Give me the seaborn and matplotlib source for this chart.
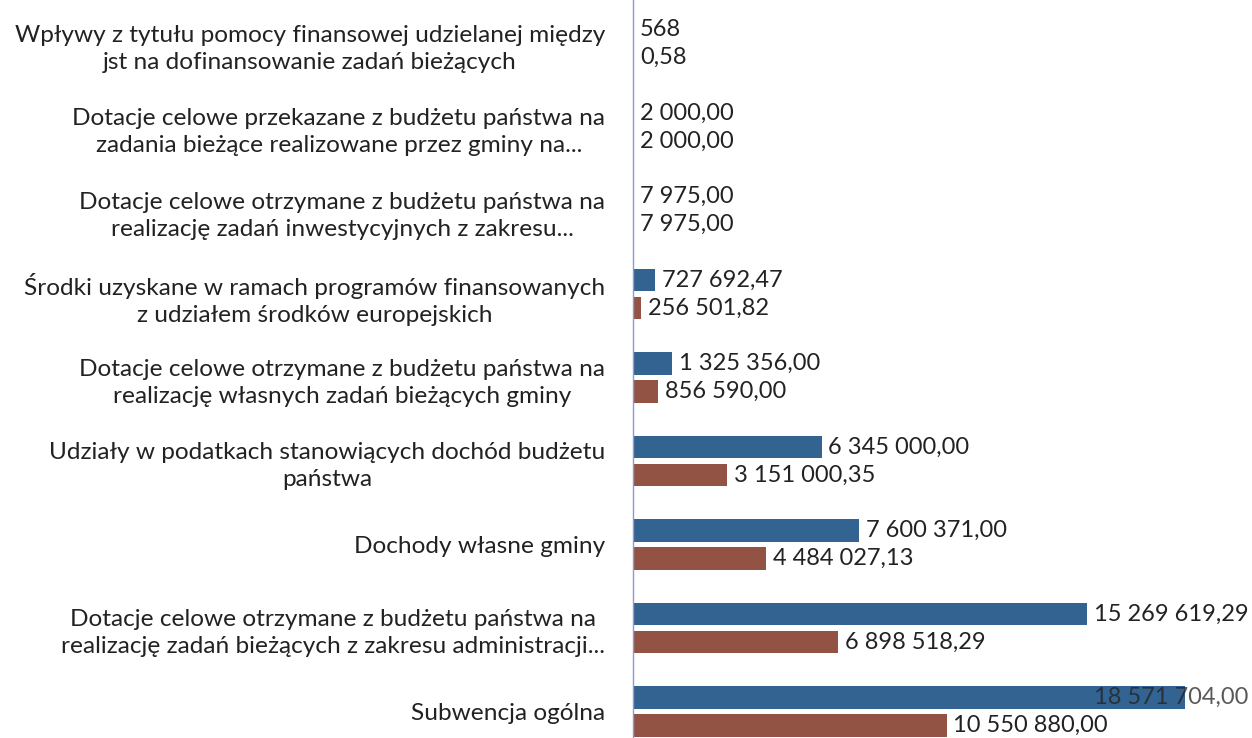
import matplotlib
matplotlib.use("Agg")
import matplotlib.pyplot as plt
import matplotlib.transforms as mtransforms
import pandas as pd
import seaborn as sns

# ── data ─────────────────────────────────────────────────────────────────────
categories = [
    "Wpływy z tytułu pomocy finansowej udzielanej między\njst na dofinansowanie zadań bieżących",
    "Dotacje celowe przekazane z budżetu państwa na\nzadania bieżące realizowane przez gminy na...",
    "Dotacje celowe otrzymane z budżetu państwa na\nrealizację zadań inwestycyjnych z zakresu...",
    "Środki uzyskane w ramach programów finansowanych\nz udziałem środków europejskich",
    "Dotacje celowe otrzymane z budżetu państwa na\nrealizację własnych zadań bieżących gminy",
    "Udziały w podatkach stanowiących dochód budżetu\npaństwa",
    "Dochody własne gminy",
    "Dotacje celowe otrzymane z budżetu państwa na\nrealizację zadań bieżących z zakresu administracji...",
    "Subwencja ogólna",
]
plan_values = [568.00, 2000.00, 7975.00, 727692.47, 1325356.00,
               6345000.00, 7600371.00, 15269619.29, 18571704.00]
exec_values = [0.58, 2000.00, 7975.00, 256501.82, 856590.00,
               3151000.35, 4484027.13, 6898518.29, 10550880.00]
plan_labels = ["568", "2 000,00", "7 975,00", "727 692,47", "1 325 356,00",
               "6 345 000,00", "7 600 371,00", "15 269 619,29", "18 571 704,00"]
exec_labels = ["0,58", "2 000,00", "7 975,00", "256 501,82", "856 590,00",
               "3 151 000,35", "4 484 027,13", "6 898 518,29", "10 550 880,00"]
series = ["plan", "wykonanie"]

BLUE = "#2364a0"
RED = "#a04b37"
TEXT = "#222222"

df = pd.DataFrame({
    "kategoria": categories * 2,
    "kwota": plan_values + exec_values,
    "seria": [series[0]] * len(categories) + [series[1]] * len(categories),
})

# ── plot ─────────────────────────────────────────────────────────────────────
sns.set_style("white")
plt.rcParams["font.family"] = ["Lato", "DejaVu Sans"]

fig = plt.figure(figsize=(12.52, 7.38), dpi=100)
ax = fig.add_axes([633 / 1252, 0.0, 1 - 633 / 1252, 1.0])

sns.barplot(
    data=df, x="kwota", y="kategoria", hue="seria",
    order=categories, hue_order=series,
    palette=[BLUE, RED], orient="h",
    width=0.67, gap=0.21, linewidth=0, legend=False, ax=ax,
)

ax.set_xlim(0, 20.83e6)
ax.set_ylim(8.317, -0.521)
ax.set_xlabel("")
ax.set_ylabel("")
ax.set_xticks([])

for side in ["top", "right", "bottom"]:
    ax.spines[side].set_visible(False)
ax.spines["left"].set_color("#8b9bd0")
ax.spines["left"].set_linewidth(1.0)

ax.tick_params(axis="y", length=0, pad=20, labelsize=17.6, labelcolor=TEXT)
for lbl in ax.get_yticklabels():
    lbl.set_multialignment("center")
    lbl.set_linespacing(1.38)

# value labels next to the bar ends
fig.canvas.draw()
renderer = fig.canvas.get_renderer()
ax_right = ax.get_window_extent(renderer).x1
blend = mtransforms.blended_transform_factory(ax.transAxes, ax.transData)
for container, labels in zip(ax.containers, [plan_labels, exec_labels]):
    for patch, text in zip(container.patches, labels):
        yc = patch.get_y() + patch.get_height() / 2
        t = ax.annotate(text, xy=(patch.get_width(), yc), xytext=(5, 0),
                        textcoords="offset points", ha="left", va="center",
                        fontsize=17, color=TEXT, annotation_clip=False)
        bb = t.get_window_extent(renderer)
        if bb.x1 > ax_right + 6:
            # too long for the plot area: pull it back inside, over the bar
            t.remove()
            ax.text(0.994, yc, text, transform=blend, ha="right", va="center",
                    fontsize=17, color=TEXT, alpha=0.75)

fig.savefig("out.png", dpi=100, facecolor="white")
